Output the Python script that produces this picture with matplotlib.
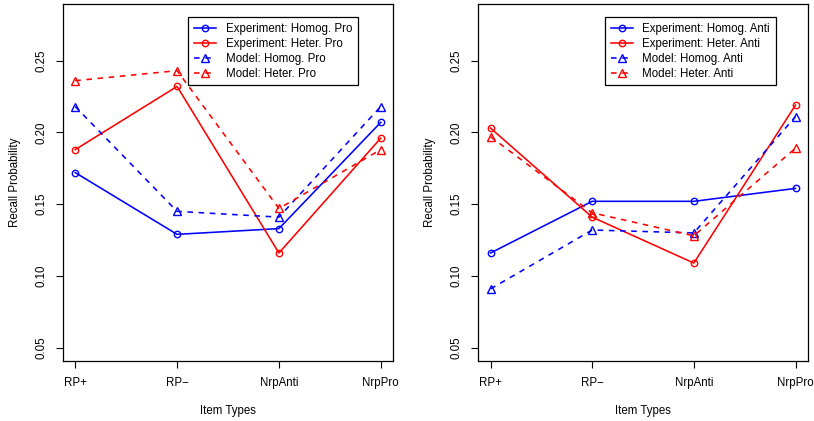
import matplotlib
matplotlib.use("Agg")
import matplotlib.pyplot as plt

plt.rcParams['font.family'] = ['Liberation Sans', 'DejaVu Sans']
plt.rcParams['font.size'] = 8.3

# item types on the x axis
item_types = ["RP+", "RP\u2212", "NrpAnti", "NrpPro"]
x_pos = [1, 2, 3, 4]
y_ticks = [0.05, 0.10, 0.15, 0.20, 0.25]

# left panel (Pro)
exp_homog_pro = [0.172, 0.129, 0.133, 0.207]
exp_heter_pro = [0.188, 0.232, 0.116, 0.196]
model_homog_pro = [0.218, 0.145, 0.141, 0.218]
model_heter_pro = [0.236, 0.243, 0.147, 0.188]
labels_pro = ["Experiment: Homog. Pro", "Experiment: Heter. Pro",
              "Model: Homog. Pro", "Model: Heter. Pro"]

# right panel (Anti)
exp_homog_anti = [0.116, 0.152, 0.152, 0.161]
exp_heter_anti = [0.203, 0.141, 0.109, 0.219]
model_homog_anti = [0.091, 0.132, 0.130, 0.211]
model_heter_anti = [0.197, 0.144, 0.128, 0.189]
labels_anti = ["Experiment: Homog. Anti", "Experiment: Heter. Anti",
               "Model: Homog. Anti", "Model: Heter. Anti"]

BLUE = "#0000FF"
RED = "#FF0000"


def draw_panel(ax, series, labels, legend_x):
    # colour, marker, marker size, line style
    styles = [(BLUE, "o", 4.6, "-"), (RED, "o", 4.6, "-"),
              (BLUE, "^", 6.2, "--"), (RED, "^", 6.2, "--")]
    for vals, lab, (col, mk, ms, ls) in zip(series, labels, styles):
        line, = ax.plot(x_pos, vals, color=col, marker=mk, linestyle=ls, lw=1.15,
                        markersize=ms, markerfacecolor="none", markeredgewidth=1.0,
                        label=lab)
        if ls == "--":
            line.set_dashes((3.5, 3.5))

    ax.set_xlim(0.88, 4.12)
    ax.set_ylim(0.0408, 0.2892)
    ax.set_xticks(x_pos)
    ax.set_xticklabels(item_types)
    ax.set_yticks(y_ticks)
    ax.set_yticklabels(["%.2f" % v for v in y_ticks], rotation=90, va="center")
    ax.tick_params(direction="out", length=5, width=0.8, pad=6.5)

    ax.set_xlabel("Item Types")
    ax.xaxis.set_label_coords(0.5, -0.122)
    ax.set_ylabel("Recall Probability")
    ax.yaxis.set_label_coords(-0.128, 0.5)
    for sp in ax.spines.values():
        sp.set_linewidth(0.9)

    leg = ax.legend(loc="upper right", bbox_to_anchor=(legend_x, 0.964),
                    borderaxespad=0, fancybox=False, framealpha=1,
                    edgecolor="black", handlelength=1.9, handletextpad=0.85,
                    labelspacing=0.25, borderpad=0.5, numpoints=1)
    leg.get_frame().set_linewidth(0.9)


fig = plt.figure(figsize=(8.14, 4.21), dpi=100)
ax1 = fig.add_axes([63 / 814, 60 / 421, 330 / 814, 356.7 / 421])
ax2 = fig.add_axes([478.3 / 814, 60 / 421, 329.4 / 814, 356.7 / 421])

draw_panel(ax1, [exp_homog_pro, exp_heter_pro, model_homog_pro, model_heter_pro],
           labels_pro, 0.894)
draw_panel(ax2, [exp_homog_anti, exp_heter_anti, model_homog_anti, model_heter_anti],
           labels_anti, 0.903)

fig.savefig("out.png", dpi=100)
